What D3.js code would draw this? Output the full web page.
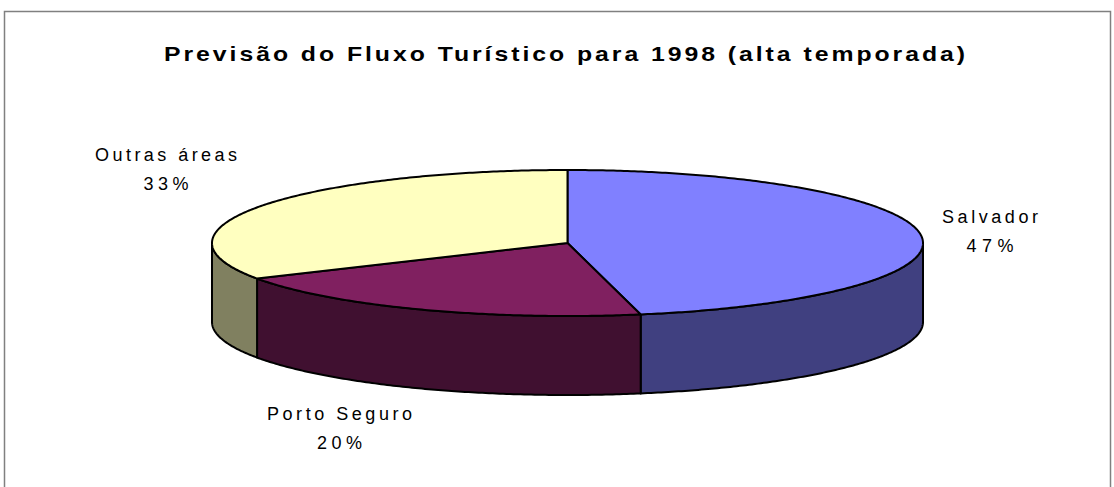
<!DOCTYPE html>
<html>
<head>
<meta charset="utf-8" />
<title>Previsão do Fluxo Turístico</title>
<style>
  body { margin: 0; background: #fff; }
  text { font-family: Arial, "Liberation Sans", sans-serif; fill: #000; }
</style>
</head>
<body>
<script src="https://d3js.org/d3.v7.min.js"></script>
<script>

    var categories = ["Salvador", "Porto Seguro", "Outras áreas"];
    var values = [46.7, 20.2, 33.1];
    var pctLabels = ["47%", "20%", "33%"];
    var topColors = ["#8080ff", "#802060", "#ffffc0"];
    var sideColors = ["#404080", "#401030", "#808060"];

    var width = 1114, height = 487;

    var pie = {"cx": 567.5, "cy": 243, "rx": 355.5, "ry": 73, "depth": 79};

    var svg = d3.select("body").append("svg")
                .attr("width", width)
                .attr("height", height);

    svg.append("rect")
       .attr("x", 4.5).attr("y", 11.5)
       .attr("width", 1106).attr("height", 520)
       .attr("fill", "#fff")
       .attr("stroke", "#808080")
       .attr("stroke-width", 1.5);

    svg.append("text")
       .attr("x", 164).attr("y", 61)
       .attr("textLength", 804)
       .attr("lengthAdjust", "spacingAndGlyphs")
       .style("font-size", "21px")
       .style("font-weight", "bold")
       .style("letter-spacing", "2.5px")
       .text("Previsão do Fluxo Turístico para 1998 (alta temporada)");

    var arcs = d3.pie().sort(null)(values);

    // unit circle angle (0 = top, clockwise) -> projected ellipse
    var px = d3.scaleLinear().domain([-1, 1]).range([pie.cx - pie.rx, pie.cx + pie.rx]);
    var py = d3.scaleLinear().domain([-1, 1]).range([pie.cy - pie.ry, pie.cy + pie.ry]);

    function pt(a, dy) {
        return [px(Math.sin(a)), py(-Math.cos(a)) + (dy || 0)];
    }

    function arcPts(a0, a1, dy) {
        var n = Math.max(2, Math.ceil(Math.abs(a1 - a0) / 0.01));
        return d3.range(n + 1).map(k => pt(a0 + (a1 - a0) * k / n, dy));
    }

    var line = d3.line();

    // side walls (front half only: angles PI/2 .. 3PI/2)
    var sides = svg.append("g");
    arcs.forEach((d, i) => {
        var a0 = Math.max(d.startAngle, Math.PI / 2);
        var a1 = Math.min(d.endAngle, 3 * Math.PI / 2);
        if (a1 <= a0) return;
        var pts = arcPts(a0, a1, 0).concat(arcPts(a1, a0, pie.depth));
        sides.append("path")
             .attr("d", line(pts) + "Z")
             .attr("fill", sideColors[i])
             .attr("stroke", "#000")
             .attr("stroke-width", 2)
             .attr("stroke-linejoin", "round");
    });

    // top faces
    var tops = svg.append("g");
    arcs.forEach((d, i) => {
        var pts = [[pie.cx, pie.cy]].concat(arcPts(d.startAngle, d.endAngle, 0));
        tops.append("path")
            .attr("d", line(pts) + "Z")
            .attr("fill", topColors[i])
            .attr("stroke", "#000")
            .attr("stroke-width", 2)
            .attr("stroke-linejoin", "round");
    });

    // labels
    var labelPos = [
        {"x": 990, "y": 223, "w": 96, "pw": 47},
        {"x": 339.5, "y": 420, "w": 145, "pw": 45},
        {"x": 166, "y": 161, "w": 142, "pw": 45}
    ];

    categories.forEach((c, i) => {
        var p = labelPos[i];
        var g = svg.append("g").style("font-size", "18px");
        g.append("text")
         .attr("x", p.x - p.w / 2).attr("y", p.y)
         .attr("textLength", p.w)
         .attr("lengthAdjust", "spacing")
         .text(c);
        g.append("text")
         .attr("x", p.x - p.pw / 2).attr("y", p.y + 29)
         .attr("textLength", p.pw)
         .attr("lengthAdjust", "spacing")
         .text(pctLabels[i]);
    });

</script>
</body>
</html>
